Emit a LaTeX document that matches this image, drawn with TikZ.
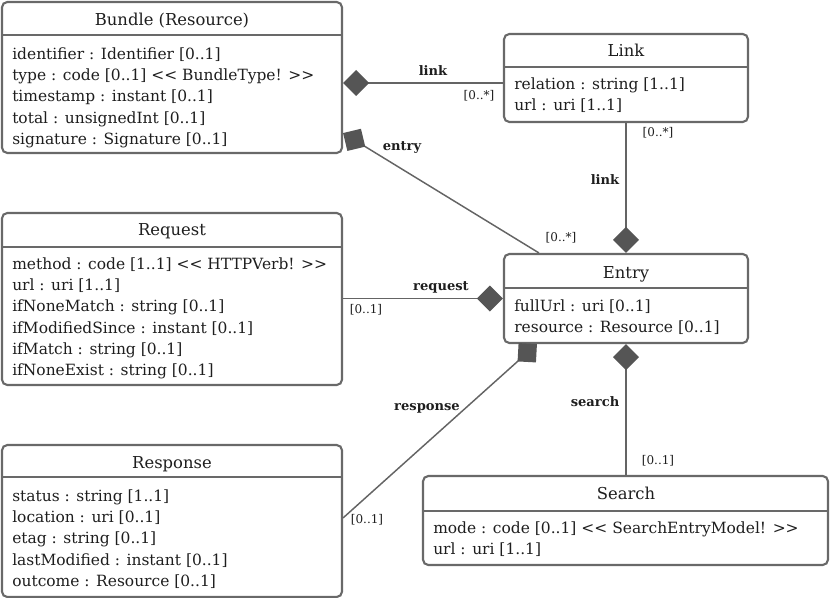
\documentclass[tikz,border=0pt]{standalone}
\usepackage{fontspec}
\setmainfont{DejaVu Serif}
\usetikzlibrary{arrows.meta,calc,fit}
\begin{document}
\begin{tikzpicture}[x=0.75pt,y=-0.75pt]
  % Colors
  \definecolor{boxcol}{RGB}{105,105,105}
  \definecolor{linecol}{RGB}{100,100,100}
  \definecolor{diacol}{RGB}{85,85,85}
  \definecolor{txtcol}{RGB}{30,30,30}
  %
  \tikzset{
    classbox/.style={draw=boxcol, line width=1.6pt, rounded corners=4pt, inner sep=0pt},
    ctitle/.style={anchor=base, inner sep=0pt, text=txtcol, font=\fontsize{12.3}{14}\selectfont},
    cattr/.style={anchor=north west, align=left, inner sep=0pt, text=txtcol,
                  font=\fontsize{11.6}{16}\selectfont},
    csep/.style={draw=boxcol, line width=1.6pt},
    comp/.style={draw=linecol, line width=1.1pt,
                 {Diamond[length=19.5pt, width=19.5pt, fill=diacol, color=diacol]}-},
    rolelbl/.style={inner sep=0pt, text=txtcol, font=\fontsize{9.8}{11}\selectfont\bfseries},
    multlbl/.style={inner sep=0pt, text=txtcol, font=\fontsize{9}{10}\selectfont},
  }
  %
  \useasboundingbox (0,0) rectangle (830,598);
  %
  % === BUNDLE ===
  \node[classbox, fit={(2,2) (342,153)}] (bundle) {};
  \node[ctitle] (bundletitle) at (172,26) {Bundle (Resource)};
  \draw[csep] (2,35) -- (342,35);
  \node[cattr] (bundleattr) at (12,47) {identifier : Identifier [0..1]\\
    type : code [0..1] <{}< BundleType! >{}>\\
    timestamp : instant [0..1]\\
    total : unsignedInt [0..1]\\
    signature : Signature [0..1]};
  %
  % === LINK ===
  \node[classbox, fit={(504,34) (748,122)}] (link) {};
  \node[ctitle] (linktitle) at (626,57) {Link};
  \draw[csep] (504,67) -- (748,67);
  \node[cattr] (linkattr) at (514,77) {relation : string [1..1]\\
    url : uri [1..1]};
  %
  % === REQUEST ===
  \node[classbox, fit={(2,213) (342,385)}] (request) {};
  \node[ctitle] (requesttitle) at (172,236) {Request};
  \draw[csep] (2,247) -- (342,247);
  \node[cattr] (requestattr) at (12,257) {method : code [1..1] <{}< HTTPVerb! >{}>\\
    url : uri [1..1]\\
    ifNoneMatch : string [0..1]\\
    ifModifiedSince : instant [0..1]\\
    ifMatch : string [0..1]\\
    ifNoneExist : string [0..1]};
  %
  % === ENTRY ===
  \node[classbox, fit={(504,254) (748,343)}] (entry) {};
  \node[ctitle] (entrytitle) at (626,278) {Entry};
  \draw[csep] (504,288) -- (748,288);
  \node[cattr] (entryattr) at (514,299) {fullUrl : uri [0..1]\\
    resource : Resource [0..1]};
  %
  % === RESPONSE ===
  \node[classbox, fit={(2,445) (342,597)}] (response) {};
  \node[ctitle] (responsetitle) at (172,468) {Response};
  \draw[csep] (2,477) -- (342,477);
  \node[cattr] (responseattr) at (12,489) {status : string [1..1]\\
    location : uri [0..1]\\
    etag : string [0..1]\\
    lastModified : instant [0..1]\\
    outcome : Resource [0..1]};
  %
  % === SEARCH ===
  \node[classbox, fit={(423,476) (828,565)}] (search) {};
  \node[ctitle] (searchtitle) at (626,499) {Search};
  \draw[csep] (423,511) -- (828,511);
  \node[cattr] (searchattr) at (433,521) {mode : code [0..1] <{}< SearchEntryModel! >{}>\\
    url : uri [1..1]};
  %
  % === COMPOSITIONS ===
  \draw[comp] ([yshift=-4.1pt]bundle.east) -- ([yshift=-4.1pt]bundle.east -| link.west);
  \draw[comp] ($(bundle.south east)+(0,-21)$) -- ($(entry.north west)+(36,0)$);
  \draw[comp] (entry.north) -- (entry.north |- link.south);
  \draw[comp] (entry.west) -- (entry.west -| request.east);
  \draw[comp] ($(entry.south west)+(34,0)$) -- ($(response.north east)+(0,74)$);
  \draw[comp] (entry.south) -- (entry.south |- search.north);
  %
  % === ROLE NAMES AND MULTIPLICITIES ===
  \node[rolelbl] (lblink) at (433,71) {link};
  \node[multlbl] (mlink) at (479,96) {[0..*]};
  \node[rolelbl] (lentry) at (402,148) {entry};
  \node[multlbl] (mentry) at (561,238) {[0..*]};
  \node[rolelbl] (lelink) at (605,180) {link};
  \node[multlbl] (melink) at (658,133) {[0..*]};
  \node[rolelbl] (lrequest) at (441,287) {request};
  \node[multlbl] (mrequest) at (366,310) {[0..1]};
  \node[rolelbl] (lresponse) at (427,408) {response};
  \node[multlbl] (mresponse) at (367,520) {[0..1]};
  \node[rolelbl] (lsearch) at (595,402) {search};
  \node[multlbl] (msearch) at (658,461) {[0..1]};
\end{tikzpicture}
\end{document}
